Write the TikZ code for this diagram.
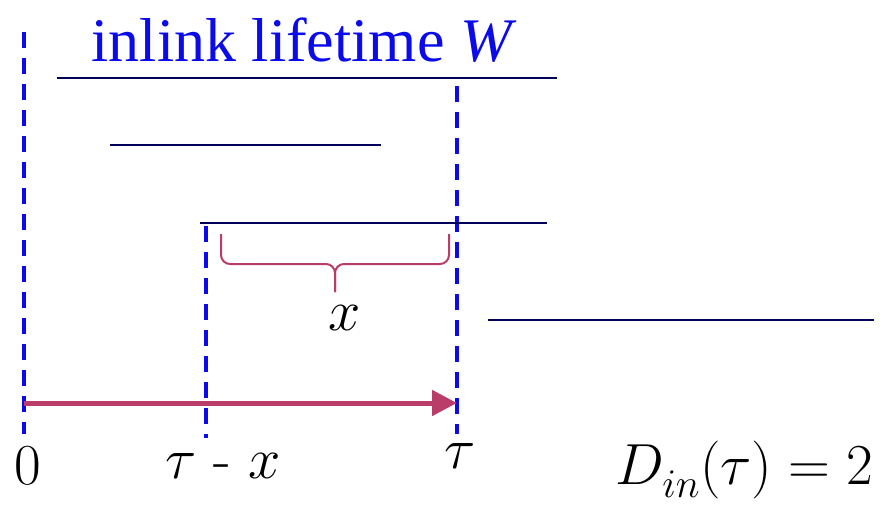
\RequirePackage{fix-cm}
\documentclass[tikz,border=0pt]{standalone}
\usepackage{fontspec}
\newfontfamily\titlefont{Liberation Serif}
\usetikzlibrary{arrows.meta}
\definecolor{lifeblue}{RGB}{10,10,235}
\definecolor{navy}{RGB}{0,0,90}
\definecolor{crimson}{RGB}{185,60,105}
\tikzset{
  vdash/.style={draw=lifeblue,line width=3.5pt,dash pattern=on 16pt off 10pt},
  life/.style={draw=navy,line width=2.6pt},
  lbl/.style={inner sep=0pt,font=\fontsize{58}{66}\selectfont},
}
\begin{document}
\begin{tikzpicture}[x=1pt,y=-1pt]
\useasboundingbox (0,0) rectangle (880,506);
% dashed verticals
\coordinate (z0) at (24,32); \coordinate (z1) at (24,434);
\coordinate (t0) at (457,86); \coordinate (t1) at (457,434);
\coordinate (m0) at (206,226); \coordinate (m1) at (206,438);
\draw[vdash] (z0) -- (z1);
\draw[vdash] (t0) -- (t1);
\draw[vdash] (m0) -- (m1);
% title
\node[inner sep=0pt,text=lifeblue,font=\titlefont\fontsize{62}{70}\selectfont] (title) at (304,40) {inlink lifetime \textit{W}};
% lifetimes
\coordinate (a0) at (57,78); \coordinate (a1) at (557,78);
\coordinate (b0) at (110,145); \coordinate (b1) at (381,145);
\coordinate (c0) at (200,223); \coordinate (c1) at (547,223);
\coordinate (d0) at (488,320); \coordinate (d1) at (874,320);
\draw[life] (a0) -- (a1);
\draw[life] (b0) -- (b1);
\draw[life] (c0) -- (c1);
\draw[life] (d0) -- (d1);
% brace
\coordinate (brL) at (221,234); \coordinate (brR) at (449,234);
\coordinate (brT) at (335,292);
\draw[crimson,line width=2pt,rounded corners=9pt] (brL) |- (brT |- 0,264) -- (brT);
\draw[crimson,line width=2pt,rounded corners=9pt] (brR) |- (brT |- 0,264) -- (brT);
\node[lbl] (xl) at (345,318) {$x$};
% arrow
\coordinate (ar0) at (24,403);
\draw[crimson,line width=5pt,-{Triangle[length=25pt,width=25pt]}] (ar0) -- (t0 |- ar0);
% labels
\node[lbl] (zero) at (28,466) {$0$};
\node[lbl] (tmx) at (223,466) {$\tau$ - $x$};
\node[lbl] (tau) at (460,456) {$\tau$};
\node[lbl] (din) at (744,470) {$D_{\lower4pt\hbox{$\scriptstyle in$}}(\tau) = 2$};
\end{tikzpicture}
\end{document}
